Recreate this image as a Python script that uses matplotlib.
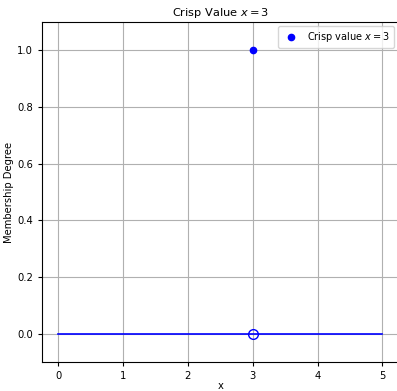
import numpy as np
import matplotlib
matplotlib.use('Agg')
import matplotlib.pyplot as plt

# data
crisp_x = 3
line_x = [0, 5]
line_y = [0, 0]
hollow_x = [3]
hollow_y = [0]
filled_x = [3]
filled_y = [1]

fig = plt.figure(figsize=(3.97, 3.91), dpi=100)
ax = fig.add_axes([0.106, 0.073, 0.898, 0.872])

ax.plot(line_x, line_y, color='blue', linewidth=1.2)
ax.plot(hollow_x, hollow_y, 'o', markerfacecolor='none', markeredgecolor='blue',
        markersize=7, markeredgewidth=1.0)
ax.plot(filled_x, filled_y, 'o', color='blue', markersize=4.5,
        label=r'Crisp value $x = 3$')

ax.set_xlim(-0.25, 5.25)
ax.set_ylim(-0.1, 1.1)
ax.set_xticks(np.arange(0, 6, 1))
ax.set_yticks(np.arange(0, 1.01, 0.2))
ax.set_title(r'Crisp Value $x = 3$', fontsize=8.2, pad=4)
ax.set_xlabel('x', fontsize=7.2, labelpad=0)
ax.set_ylabel('Membership Degree', fontsize=7.2, labelpad=2)
ax.tick_params(labelsize=7.2, length=3)
ax.grid(True, color='#b0b0b0', linewidth=0.8)
ax.legend(loc='upper right', fontsize=7, handlelength=1.8)

fig.savefig('out.png', dpi=100)
